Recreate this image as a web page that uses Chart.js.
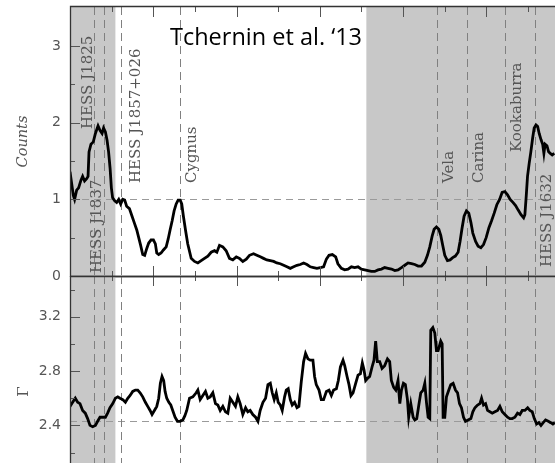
<!DOCTYPE html>
<html>
<head>
<meta charset="utf-8">
<script src="https://cdn.jsdelivr.net/npm/chart.js@4.4.1/dist/chart.umd.min.js"></script>
<style>
  html, body { margin: 0; padding: 0; background: #fff; overflow: hidden; }
  #wrap { position: relative; width: 555px; height: 463px; }
  canvas { position: absolute; left: 0; }
  #countsPanel { top: 0; }
  #gammaPanel { top: 270px; }
</style>
</head>
<body>
<div id="wrap">
  <canvas id="countsPanel" width="555" height="300"></canvas>
  <canvas id="gammaPanel" width="555" height="193"></canvas>
</div>
<script>
// ---- Galactic longitude axis (degrees) ----
const lonMin = 0;
const lonMax = 349.4;
const lonMajorTicks = [0, 60, 120, 180, 240, 300];
const lonMinorTicks = [30, 90, 150, 210, 270, 330];
const shadedBands = [[0, 32.7], [213.5, 349.4]];

// ---- Marked sources ----
const sourceNames = ['HESS J1825', 'HESS J1837', 'HESS J1857+026', 'Cygnus', 'Vela', 'Carina', 'Kookaburra', 'HESS J1632'];
const sourceLon = [17.6, 24.4, 36.6, 79.5, 264.4, 286.2, 313.3, 334.9];

// ---- Upper panel: counts profile ----
const countsLon = [0.0, 2.4, 3.3, 4.8, 6.2, 7.9, 9.1, 10.5, 12.0, 13.0, 13.7, 15.1, 16.8, 18.3, 20.2, 21.6, 23.1, 24.2, 25.5, 26.7, 27.8, 28.9, 29.8, 30.7, 32.2, 33.6, 35.1, 36.5, 38.0, 39.4, 40.8, 42.8, 44.7, 46.4, 48.1, 49.5, 50.9, 52.4, 53.8, 55.3, 56.7, 58.4, 60.1, 61.5, 62.5, 63.9, 65.6, 67.3, 69.3, 70.7, 72.1, 73.6, 75.0, 76.5, 77.9, 79.4, 80.5, 81.7, 83.2, 84.8, 87.3, 89.7, 92.1, 94.5, 96.9, 99.3, 101.7, 104.1, 105.8, 107.7, 110.1, 112.5, 114.9, 117.3, 119.8, 122.1, 124.5, 127.0, 129.3, 132.2, 134.6, 137.1, 139.4, 141.8, 144.3, 146.7, 149.0, 151.5, 153.9, 156.3, 158.7, 161.1, 163.5, 165.9, 168.3, 170.7, 173.1, 175.5, 177.9, 180.3, 182.7, 184.7, 186.6, 189.0, 191.4, 193.0, 195.5, 197.9, 200.3, 202.7, 205.1, 207.5, 209.9, 212.3, 214.7, 217.1, 219.5, 221.9, 224.4, 226.7, 229.1, 231.6, 234.0, 236.3, 238.8, 241.2, 243.5, 246.0, 248.4, 250.8, 253.2, 255.6, 257.5, 259.2, 260.9, 262.3, 264.0, 265.7, 267.1, 268.5, 270.0, 271.9, 273.8, 275.7, 277.6, 279.6, 281.0, 282.4, 283.9, 285.6, 287.3, 288.8, 290.2, 292.2, 294.0, 296.0, 297.9, 299.8, 301.8, 303.7, 305.6, 307.5, 309.5, 311.3, 313.3, 315.2, 317.1, 319.1, 321.0, 322.9, 324.9, 326.8, 327.7, 328.7, 329.6, 330.8, 332.0, 333.3, 334.4, 335.7, 336.9, 338.0, 339.3, 340.5, 341.4, 342.3, 343.6, 344.8, 346.0, 347.4, 348.9];
const counts = [1.36, 1.05, 1.00, 1.12, 1.15, 1.25, 1.30, 1.24, 1.27, 1.30, 1.62, 1.72, 1.75, 1.86, 1.96, 1.90, 1.86, 1.93, 1.88, 1.77, 1.62, 1.40, 1.15, 1.02, 0.98, 0.96, 1.00, 0.94, 1.00, 0.99, 0.91, 0.88, 0.78, 0.69, 0.60, 0.50, 0.40, 0.28, 0.27, 0.36, 0.43, 0.47, 0.47, 0.42, 0.30, 0.28, 0.30, 0.34, 0.38, 0.48, 0.60, 0.72, 0.85, 0.94, 0.99, 0.99, 0.94, 0.78, 0.60, 0.42, 0.23, 0.19, 0.17, 0.20, 0.23, 0.26, 0.31, 0.33, 0.31, 0.40, 0.38, 0.33, 0.23, 0.21, 0.25, 0.23, 0.19, 0.22, 0.27, 0.29, 0.27, 0.25, 0.23, 0.21, 0.20, 0.19, 0.17, 0.16, 0.14, 0.12, 0.10, 0.12, 0.14, 0.15, 0.17, 0.15, 0.12, 0.11, 0.10, 0.11, 0.12, 0.22, 0.27, 0.28, 0.25, 0.16, 0.10, 0.08, 0.09, 0.12, 0.11, 0.12, 0.09, 0.08, 0.07, 0.06, 0.06, 0.08, 0.09, 0.11, 0.10, 0.09, 0.07, 0.08, 0.11, 0.14, 0.17, 0.16, 0.15, 0.13, 0.13, 0.18, 0.27, 0.38, 0.52, 0.61, 0.64, 0.61, 0.53, 0.40, 0.27, 0.20, 0.21, 0.24, 0.26, 0.31, 0.45, 0.62, 0.78, 0.85, 0.82, 0.70, 0.56, 0.45, 0.39, 0.37, 0.41, 0.50, 0.63, 0.72, 0.82, 0.93, 1.00, 1.09, 1.10, 1.06, 1.00, 0.96, 0.92, 0.86, 0.80, 0.76, 0.80, 1.05, 1.30, 1.47, 1.62, 1.80, 1.93, 1.97, 1.95, 1.86, 1.78, 1.72, 1.60, 1.72, 1.70, 1.62, 1.60, 1.58, 1.60];
const countsTickLabels = [0, 1, 2, 3];
const countsMinorTicks = [0.5, 1.5, 2.5];
const countsRef = 1;

// ---- Lower panel: spectral index ----
const gammaLon = [0.0, 1.9, 3.8, 5.5, 7.2, 9.1, 11.0, 12.7, 14.4, 16.3, 18.3, 19.9, 21.6, 23.5, 25.5, 27.1, 28.8, 30.8, 32.7, 34.4, 36.0, 38.0, 39.9, 41.6, 43.3, 45.2, 47.1, 48.8, 50.5, 52.4, 54.3, 56.0, 57.7, 59.1, 60.8, 62.5, 63.9, 65.1, 66.3, 67.5, 68.5, 69.7, 71.2, 72.6, 74.0, 75.7, 77.4, 79.3, 81.3, 82.7, 84.1, 86.1, 88.5, 90.9, 92.1, 93.8, 95.7, 97.6, 99.3, 101.0, 102.9, 104.8, 106.5, 108.2, 110.1, 112.0, 113.7, 115.4, 117.3, 119.2, 120.9, 122.6, 124.5, 126.5, 128.1, 129.8, 131.7, 133.7, 135.4, 137.0, 139.0, 140.9, 142.6, 144.3, 145.7, 147.1, 148.6, 150.0, 151.5, 152.9, 154.6, 155.8, 157.2, 158.7, 160.1, 161.8, 163.5, 164.9, 166.6, 168.3, 169.7, 171.4, 173.1, 175.0, 176.2, 177.4, 179.4, 181.0, 182.7, 184.7, 186.6, 188.3, 189.9, 191.9, 193.3, 194.8, 196.7, 197.9, 199.6, 201.0, 202.4, 203.9, 205.8, 207.5, 209.2, 210.6, 211.8, 213.0, 214.7, 215.9, 217.6, 219.0, 220.2, 221.4, 223.1, 224.8, 226.7, 228.7, 230.3, 231.5, 233.2, 234.7, 236.3, 237.6, 238.8, 240.2, 241.6, 243.1, 244.0, 245.5, 247.2, 248.4, 249.8, 251.3, 252.7, 254.4, 255.6, 256.8, 258.0, 259.2, 259.9, 261.4, 262.8, 264.0, 265.2, 267.1, 268.1, 268.8, 270.0, 271.2, 272.9, 274.3, 276.0, 277.7, 279.2, 280.6, 282.0, 283.5, 284.9, 286.8, 288.8, 290.2, 291.7, 293.6, 295.3, 296.5, 297.9, 299.4, 300.8, 302.5, 304.2, 306.1, 308.0, 309.7, 311.4, 313.3, 315.2, 316.9, 318.6, 320.5, 322.4, 324.1, 325.8, 327.7, 329.7, 331.3, 333.0, 334.5, 336.2, 337.8, 339.3, 340.9, 342.6, 344.6, 346.3, 347.9, 349.4];
const gamma = [2.54, 2.57, 2.60, 2.57, 2.56, 2.51, 2.49, 2.45, 2.40, 2.39, 2.40, 2.43, 2.46, 2.46, 2.46, 2.49, 2.53, 2.56, 2.60, 2.61, 2.60, 2.59, 2.57, 2.60, 2.62, 2.65, 2.66, 2.66, 2.64, 2.61, 2.57, 2.54, 2.51, 2.48, 2.51, 2.54, 2.60, 2.71, 2.76, 2.73, 2.65, 2.60, 2.57, 2.55, 2.51, 2.46, 2.43, 2.43, 2.44, 2.47, 2.51, 2.60, 2.61, 2.64, 2.66, 2.59, 2.62, 2.65, 2.60, 2.61, 2.64, 2.56, 2.55, 2.51, 2.54, 2.50, 2.49, 2.60, 2.57, 2.54, 2.61, 2.56, 2.48, 2.53, 2.50, 2.51, 2.48, 2.46, 2.43, 2.51, 2.57, 2.60, 2.70, 2.71, 2.64, 2.59, 2.64, 2.57, 2.55, 2.51, 2.61, 2.66, 2.67, 2.59, 2.55, 2.57, 2.53, 2.54, 2.72, 2.87, 2.93, 2.89, 2.88, 2.88, 2.76, 2.70, 2.66, 2.59, 2.59, 2.65, 2.66, 2.62, 2.66, 2.67, 2.73, 2.83, 2.88, 2.84, 2.76, 2.70, 2.62, 2.64, 2.71, 2.77, 2.78, 2.86, 2.81, 2.73, 2.75, 2.76, 2.83, 2.88, 3.02, 2.87, 2.87, 2.82, 2.84, 2.89, 2.87, 2.73, 2.68, 2.66, 2.73, 2.56, 2.66, 2.71, 2.70, 2.59, 2.46, 2.56, 2.46, 2.44, 2.45, 2.55, 2.64, 2.66, 2.71, 2.57, 2.46, 2.45, 3.10, 3.12, 3.08, 2.95, 2.95, 3.02, 3.00, 2.46, 2.46, 2.61, 2.66, 2.70, 2.71, 2.66, 2.64, 2.56, 2.53, 2.46, 2.43, 2.44, 2.45, 2.50, 2.53, 2.55, 2.56, 2.60, 2.55, 2.56, 2.51, 2.50, 2.49, 2.50, 2.51, 2.54, 2.50, 2.48, 2.46, 2.45, 2.45, 2.46, 2.49, 2.48, 2.51, 2.51, 2.53, 2.51, 2.50, 2.45, 2.41, 2.42, 2.40, 2.42, 2.44, 2.43, 2.42, 2.41, 2.42];
const gammaTickLabels = [2.4, 2.8, 3.2];
const gammaMinorTicks = [2.2, 2.6, 3.0, 3.4];
const gammaRef = 2.43;

// ---- Styling ----
const SHADE = '#c8c8c8';
const FRAME = '#333';
const TICK = '#555';
const TEXT_GREY = '#555';
const MARKER = '#808080';
const REFLINE = '#9a9a9a';
const MAJOR_LEN = 10;
const MINOR_LEN = 5;
const CITATION = { text: 'Tchernin et al. \u201813', x: 170, baseline: 45, width: 192 };

// Placement of the rotated source names: baseline offset from marker line, bottom end of the text
const labelPlacement = [
  { dx: -2.7, bottom: 129 },
  { dx: -2.9, bottom: 273 },
  { dx: 19.2, bottom: 183 },
  { dx: 15.6, bottom: 183 },
  { dx: 16.0, bottom: 183 },
  { dx: 15.7, bottom: 183 },
  { dx: 16.6, bottom: 152 },
  { dx: 16.1, bottom: 267 }
];

function crisp(v) { return Math.round(v) + 0.5; }

function drawShading(ctx, area, xs) {
  ctx.fillStyle = SHADE;
  shadedBands.forEach(([l0, l1]) => {
    const p0 = xs.getPixelForValue(l0);
    const p1 = xs.getPixelForValue(l1);
    ctx.fillRect(p0, area.top, p1 - p0, area.bottom - area.top);
  });
}

function drawMarkers(ctx, area, xs) {
  ctx.strokeStyle = MARKER;
  ctx.lineWidth = 1;
  ctx.setLineDash([8, 5]);
  sourceLon.forEach(l => {
    const px = crisp(xs.getPixelForValue(l));
    ctx.beginPath();
    ctx.moveTo(px, area.top);
    ctx.lineTo(px, area.bottom);
    ctx.stroke();
  });
  ctx.setLineDash([]);
}

function drawRefLine(ctx, area, py) {
  ctx.strokeStyle = REFLINE;
  ctx.lineWidth = 1;
  ctx.setLineDash([7, 5]);
  ctx.beginPath();
  ctx.moveTo(area.left, crisp(py));
  ctx.lineTo(area.right, crisp(py));
  ctx.stroke();
  ctx.setLineDash([]);
}

// tick marks along a horizontal edge; dir = +1 points down, -1 points up
function drawXTicks(ctx, xs, yEdge, dir) {
  ctx.strokeStyle = TICK;
  ctx.lineWidth = 1;
  ctx.beginPath();
  lonMajorTicks.forEach(v => {
    const px = crisp(xs.getPixelForValue(v));
    ctx.moveTo(px, yEdge); ctx.lineTo(px, yEdge + dir * MAJOR_LEN);
  });
  lonMinorTicks.forEach(v => {
    const px = crisp(xs.getPixelForValue(v));
    ctx.moveTo(px, yEdge); ctx.lineTo(px, yEdge + dir * MINOR_LEN);
  });
  ctx.stroke();
}

function drawYTicks(ctx, ys, xEdge, major, minor) {
  ctx.strokeStyle = TICK;
  ctx.lineWidth = 1;
  ctx.beginPath();
  major.forEach(v => {
    const py = crisp(ys.getPixelForValue(v));
    ctx.moveTo(xEdge, py); ctx.lineTo(xEdge + MAJOR_LEN, py);
  });
  minor.forEach(v => {
    const py = crisp(ys.getPixelForValue(v));
    ctx.moveTo(xEdge, py); ctx.lineTo(xEdge + MINOR_LEN, py);
  });
  ctx.stroke();
}

function drawRotated(ctx, text, x, y, align) {
  ctx.save();
  ctx.translate(x, y);
  ctx.rotate(-Math.PI / 2);
  ctx.textAlign = align;
  ctx.fillText(text, 0, 0);
  ctx.restore();
}

const countsDecor = {
  id: 'countsDecor',
  beforeDatasetsDraw(chart) {
    const { ctx, chartArea: a, scales: { x, y } } = chart;
    ctx.save();
    drawShading(ctx, a, x);
    drawRefLine(ctx, a, y.getPixelForValue(countsRef));
    drawMarkers(ctx, a, x);
    // source names
    ctx.fillStyle = TEXT_GREY;
    ctx.font = '15px "DejaVu Serif"';
    ctx.textBaseline = 'alphabetic';
    sourceNames.forEach((name, i) => {
      const px = x.getPixelForValue(sourceLon[i]) + labelPlacement[i].dx;
      drawRotated(ctx, name, px, labelPlacement[i].bottom, 'left');
    });
    ctx.restore();
  },
  afterDatasetsDraw(chart) {
    const { ctx, chartArea: a, scales: { x, y } } = chart;
    ctx.save();
    drawXTicks(ctx, x, a.top, 1);
    drawXTicks(ctx, x, a.bottom, -1);
    drawYTicks(ctx, y, a.left, countsTickLabels, countsMinorTicks);
    ctx.strokeStyle = FRAME;
    ctx.lineWidth = 1.3;
    ctx.beginPath();
    ctx.moveTo(a.left + 0.5, a.bottom + 1);
    ctx.lineTo(a.left + 0.5, a.top - 0.5);
    ctx.lineTo(a.right, a.top - 0.5);
    ctx.moveTo(a.left, a.bottom + 0.5);
    ctx.lineTo(a.right, a.bottom + 0.5);
    ctx.stroke();
    // axis title
    ctx.fillStyle = TEXT_GREY;
    ctx.font = 'italic 14.5px "DejaVu Serif"';
    ctx.textBaseline = 'alphabetic';
    drawRotated(ctx, 'Counts', 27, (a.top + a.bottom) / 2, 'center');
    // citation, fitted to its box width
    ctx.fillStyle = '#000';
    ctx.font = '23px "Open Sans"';
    ctx.textAlign = 'left';
    const w = ctx.measureText(CITATION.text).width;
    ctx.translate(CITATION.x, CITATION.baseline);
    ctx.scale(CITATION.width / w, 1);
    ctx.fillText(CITATION.text, 0, 0);
    ctx.restore();
  }
};

const gammaDecor = {
  id: 'gammaDecor',
  beforeDatasetsDraw(chart) {
    const { ctx, chartArea: a, scales: { x, y } } = chart;
    ctx.save();
    drawShading(ctx, a, x);
    drawRefLine(ctx, a, y.getPixelForValue(gammaRef));
    drawMarkers(ctx, a, x);
    ctx.restore();
  },
  afterDatasetsDraw(chart) {
    const { ctx, chartArea: a, scales: { x, y } } = chart;
    ctx.save();
    drawXTicks(ctx, x, a.top, 1);
    drawYTicks(ctx, y, a.left, gammaTickLabels, gammaMinorTicks);
    ctx.strokeStyle = FRAME;
    ctx.lineWidth = 1.3;
    ctx.beginPath();
    ctx.moveTo(a.left + 0.5, a.bottom);
    ctx.lineTo(a.left + 0.5, a.top);
    ctx.moveTo(a.left, a.top + 0.5);
    ctx.lineTo(a.right, a.top + 0.5);
    ctx.stroke();
    ctx.fillStyle = TEXT_GREY;
    ctx.font = '15px "DejaVu Serif"';
    ctx.textBaseline = 'middle';
    drawRotated(ctx, '\u0393', 24, y.getPixelForValue(2.65), 'center');
    ctx.restore();
  }
};

function buildPanel(canvasId, lon, vals, yMin, yMax, tickLabels, fmt, padding, decor) {
  return new Chart(document.getElementById(canvasId), {
    type: 'line',
    data: {
      datasets: [{
        data: lon.map((l, i) => ({ x: l, y: vals[i] })),
        borderColor: '#000',
        borderWidth: 2.8,
        pointRadius: 0,
        tension: 0,
        fill: false
      }]
    },
    options: {
      responsive: false,
      animation: false,
      devicePixelRatio: 1,
      layout: { padding },
      plugins: { legend: { display: false }, tooltip: { enabled: false } },
      scales: {
        x: { type: 'linear', min: lonMin, max: lonMax, display: false },
        y: {
          type: 'linear',
          min: yMin,
          max: yMax,
          afterBuildTicks: s => { s.ticks = tickLabels.map(v => ({ value: v })); },
          afterFit: s => { s.width = 70; s.paddingTop = 0; s.paddingBottom = 0; },
          grid: { display: false, drawTicks: false },
          border: { display: false },
          ticks: {
            color: TEXT_GREY,
            padding: 9,
            font: { family: 'DejaVu Sans', size: 14 },
            callback: fmt
          }
        }
      }
    },
    plugins: [decor]
  });
}

buildPanel('countsPanel', countsLon, counts, 0, 3.51, countsTickLabels,
  v => String(v), { top: 7, bottom: 24, left: 0, right: 0 }, countsDecor);
buildPanel('gammaPanel', gammaLon, gamma, 2.123, 3.5, gammaTickLabels,
  v => v.toFixed(1), { top: 6, bottom: 0, left: 0, right: 0 }, gammaDecor);
</script>
</body>
</html>
